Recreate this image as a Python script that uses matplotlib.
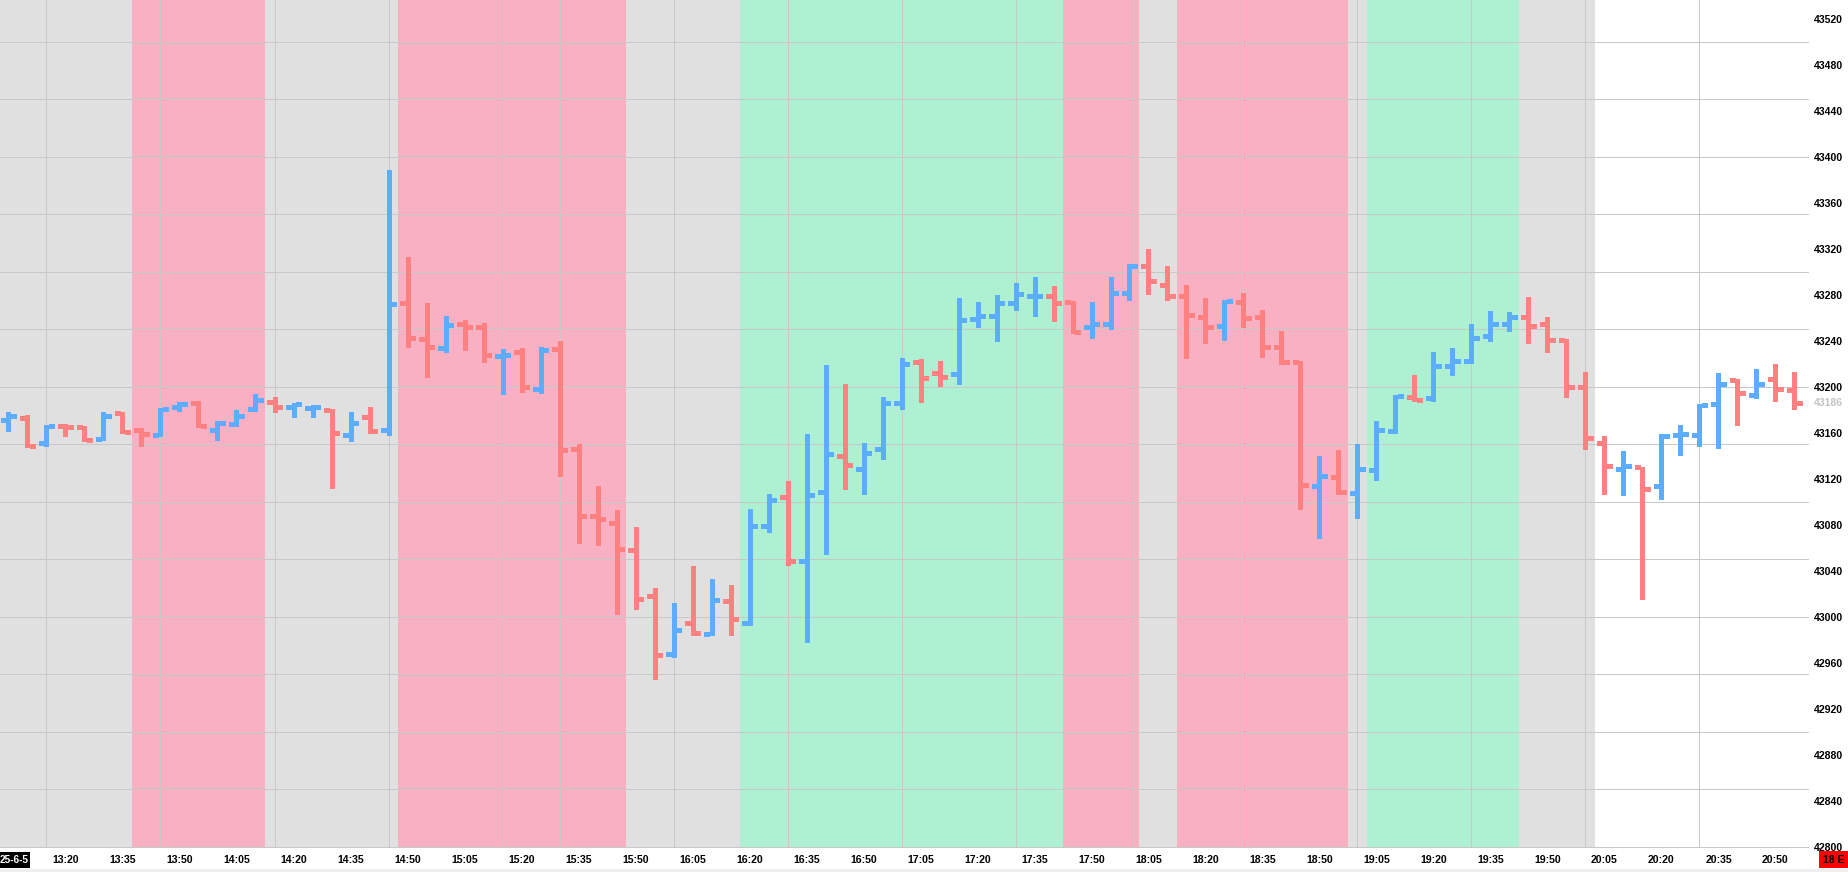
"""
Intraday 5-minute OHLC bar chart with session zones shaded behind the bars
"""

import matplotlib
matplotlib.use("Agg")
import matplotlib.pyplot as plt
import matplotlib.patches as patches
import matplotlib.transforms as mtransforms
import numpy as np
import pandas as pd

# ---- data --------------------------------------------------------------
FIRST_BAR = "13:05"
BAR_MINUTES = 5
DATE_TAG = "25-6-5"
CORNER_TAG = "18 E"

opens = [43171, 43173, 43151, 43166, 43165, 43155, 43177, 43163, 43158, 43183,
         43186, 43163, 43168, 43181, 43187, 43183, 43182, 43180, 43158, 43174,
         43163, 43273, 43242, 43234, 43255, 43252, 43227, 43230, 43198, 43233,
         43146, 43088, 43082, 43058, 43018, 42968, 42995, 42985, 43014, 42995,
         43079, 43104, 43049, 43109, 43140, 43129, 43146, 43186, 43222, 43212,
         43211, 43259, 43262, 43273, 43279, 43279, 43274, 43252, 43255, 43282,
         43305, 43289, 43279, 43261, 43253, 43274, 43261, 43235, 43222, 43114,
         43122, 43108, 43128, 43162, 43191, 43190, 43218, 43223, 43244, 43255,
         43261, 43255, 43241, 43200, 43151, 43129, 43130, 43114, 43158, 43158,
         43185, 43206, 43193, 43207, 43197]
highs = [43178, 43176, 43167, 43168, 43166, 43178, 43178, 43164, 43182, 43187,
         43188, 43170, 43180, 43194, 43191, 43186, 43184, 43181, 43178, 43183,
         43389, 43313, 43273, 43262, 43258, 43256, 43233, 43234, 43235, 43240,
         43150, 43114, 43093, 43078, 43025, 43012, 43044, 43033, 43028, 43094,
         43107, 43118, 43159, 43219, 43203, 43151, 43191, 43225, 43224, 43223,
         43277, 43274, 43280, 43290, 43296, 43288, 43275, 43274, 43296, 43307,
         43320, 43305, 43289, 43277, 43276, 43282, 43267, 43249, 43223, 43140,
         43145, 43150, 43170, 43193, 43210, 43230, 43234, 43255, 43266, 43265,
         43278, 43261, 43242, 43213, 43157, 43144, 43130, 43159, 43167, 43185,
         43212, 43207, 43216, 43220, 43213]
lows = [43162, 43148, 43149, 43157, 43153, 43154, 43160, 43149, 43157, 43179,
        43165, 43154, 43166, 43179, 43178, 43174, 43174, 43112, 43153, 43160,
        43158, 43235, 43209, 43230, 43232, 43222, 43194, 43196, 43195, 43123,
        43064, 43063, 43003, 43007, 42946, 42965, 42984, 42984, 42984, 42993,
        43074, 43045, 42978, 43055, 43111, 43107, 43137, 43181, 43187, 43201,
        43203, 43252, 43240, 43267, 43262, 43257, 43247, 43243, 43250, 43276,
        43281, 43276, 43225, 43238, 43241, 43252, 43226, 43220, 43094, 43069,
        43107, 43086, 43119, 43160, 43188, 43188, 43210, 43221, 43240, 43249,
        43238, 43230, 43191, 43146, 43107, 43106, 43016, 43103, 43141, 43149,
        43147, 43167, 43190, 43188, 43181]
closes = [43175, 43149, 43166, 43165, 43154, 43175, 43161, 43159, 43181, 43185,
          43166, 43169, 43175, 43189, 43183, 43185, 43183, 43160, 43169, 43162,
          43272, 43243, 43235, 43254, 43252, 43228, 43228, 43200, 43232, 43145,
          43088, 43085, 43059, 43016, 42967, 42989, 42986, 43015, 42998, 43079,
          43102, 43049, 43106, 43142, 43132, 43143, 43186, 43220, 43208, 43209,
          43258, 43262, 43273, 43281, 43279, 43273, 43248, 43255, 43282, 43305,
          43292, 43279, 43263, 43252, 43275, 43260, 43235, 43222, 43115, 43123,
          43109, 43129, 43163, 43192, 43189, 43218, 43223, 43243, 43255, 43261,
          43253, 43241, 43200, 43156, 43131, 43131, 43111, 43157, 43159, 43184,
          43203, 43195, 43203, 43198, 43186]

# shaded session zones (first bar, last bar, kind)
zone_start = ["13:05", "13:40", "14:15", "14:50", "15:50", "16:20",
              "17:45", "18:05", "18:15", "19:00", "19:05", "19:45"]
zone_end = ["13:35", "14:10", "14:45", "15:45", "16:15", "17:40",
            "18:00", "18:10", "18:55", "19:00", "19:40", "20:00"]
zone_kind = ["flat", "short", "flat", "short", "flat", "long",
             "short", "flat", "short", "flat", "long", "flat"]

grid_times = ["13:15", "13:45", "14:15", "14:45", "15:15", "15:30", "16:00",
              "16:30", "17:00", "17:30", "18:00", "18:30", "19:00", "19:30",
              "20:00", "20:30"]
time_labels = ["13:20", "13:35", "13:50", "14:05", "14:20", "14:35", "14:50",
               "15:05", "15:20", "15:35", "15:50", "16:05", "16:20", "16:35",
               "16:50", "17:05", "17:20", "17:35", "17:50", "18:05", "18:20",
               "18:35", "18:50", "19:05", "19:20", "19:35", "19:50", "20:05",
               "20:20", "20:35", "20:50"]
price_labels = list(range(42800, 43521, 40))
grid_prices = list(range(42800, 43501, 50))

# ---- styling ----------------------------------------------------------
UP_COLOR = "#5cadff"
DOWN_COLOR = "#ff8080"
ZONE_COLORS = {"flat": "#e0e0e0", "short": "#f8b0c2", "long": "#aef0d2"}
GRID_COLOR = "#c8c8c8"
FONT = ["Liberation Sans", "DejaVu Sans"]
LABEL_SIZE = 7.6

W, H = 1849, 872
PX_PER_MIN = 3.8          # 19 px per 5-minute bar
PLOT_RIGHT = 1809         # px where the price scale starts
PLOT_BOTTOM = 848         # px where the time scale starts
FIRST_BAR_PX = 8.5
Y_LIMITS = (42799.1, 43536.5)


def to_min(hhmm):
    h, m = hhmm.split(":")
    return int(h) * 60 + int(m)


plt.rcParams["font.family"] = FONT

bar_times = pd.date_range("2025-06-05 " + FIRST_BAR, periods=len(opens),
                          freq=f"{BAR_MINUTES}min")
x = np.array([t.hour * 60 + t.minute for t in bar_times], dtype=float)
o, h, l, c = map(np.array, (opens, highs, lows, closes))
colors = np.where(c >= o, UP_COLOR, DOWN_COLOR)

x_left = x[0] - FIRST_BAR_PX / PX_PER_MIN
x_right = x_left + PLOT_RIGHT / PX_PER_MIN

fig = plt.figure(figsize=(W / 100, H / 100), dpi=100)
ax = fig.add_axes([0, (H - PLOT_BOTTOM) / H, PLOT_RIGHT / W, PLOT_BOTTOM / H])
ax.set_xlim(x_left, x_right)
ax.set_ylim(*Y_LIMITS)
ax.set_facecolor("white")
for s in ax.spines.values():
    s.set_visible(False)

# zones
half_bar = BAR_MINUTES / 2
for start, end, kind in zip(zone_start, zone_end, zone_kind):
    ax.axvspan(to_min(start) - half_bar, to_min(end) + half_bar,
               color=ZONE_COLORS[kind], lw=0, zorder=0)

# grid (1 px lines)
for p in grid_prices:
    ax.axhline(p, color=GRID_COLOR, lw=0.72, antialiased=False, zorder=1)
for t in grid_times:
    ax.axvline(to_min(t), color=GRID_COLOR, lw=0.72, antialiased=False,
               zorder=1)

# OHLC bars
body = 2.5 / PX_PER_MIN
tick = 5 / PX_PER_MIN
ax.vlines(x, l, h, colors=colors, linewidth=5 * 0.72, capstyle="butt",
          antialiased=False, zorder=2)
ax.hlines(o, x - body - tick, x - body, colors=colors, linewidth=3.3 * 0.72,
          antialiased=False, zorder=2)
ax.hlines(c, x + body, x + body + tick, colors=colors, linewidth=3.3 * 0.72,
          antialiased=False, zorder=2)

# price scale on the right
ax.yaxis.tick_right()
ax.set_yticks(price_labels)
ax.set_yticklabels([str(p) for p in price_labels], fontsize=LABEL_SIZE,
                   fontweight="bold")
ax.tick_params(axis="y", length=0, pad=3.6)
ax.set_xticks([])

last_tf = mtransforms.offset_copy(
    mtransforms.blended_transform_factory(ax.transAxes, ax.transData),
    fig=fig, x=5, y=0, units="dots")
ax.text(1, c[-1], str(int(c[-1])), transform=last_tf, ha="left",
        va="center", fontsize=LABEL_SIZE, fontweight="bold", color="#c4c4c4",
        clip_on=False)

# time scale strip along the bottom
strip = fig.add_axes([0, 0, 1, (H - PLOT_BOTTOM) / H], zorder=3)
strip.set_xlim(x_left, x_left + W / PX_PER_MIN)
strip.set_ylim(0, H - PLOT_BOTTOM)
strip.set_facecolor("white")
strip.axis("off")
strip.add_patch(patches.Rectangle((0, 0), 1, 3 / (H - PLOT_BOTTOM),
                                  transform=strip.transAxes,
                                  facecolor="#efefef", lw=0))
for lab in time_labels:
    strip.text(to_min(lab), 12, lab, ha="center", va="center",
               fontsize=LABEL_SIZE, fontweight="bold", color="black")

strip.add_patch(patches.Rectangle((0, 4 / 24), 30 / W, 16 / 24,
                                  transform=strip.transAxes,
                                  facecolor="black", lw=0))
strip.text(29 / W, 12 / 24, DATE_TAG, transform=strip.transAxes, ha="right",
           va="center", fontsize=7.2, fontweight="bold", color="white")
strip.add_patch(patches.Rectangle((1819 / W, 4 / 24), 29 / W, 17 / 24,
                                  transform=strip.transAxes,
                                  facecolor="#ff0000", lw=0))
strip.text(1833.5 / W, 12.5 / 24, CORNER_TAG, transform=strip.transAxes,
           ha="center", va="center", fontsize=LABEL_SIZE, fontweight="bold",
           color="black")

fig.savefig("out.png", dpi=100)
